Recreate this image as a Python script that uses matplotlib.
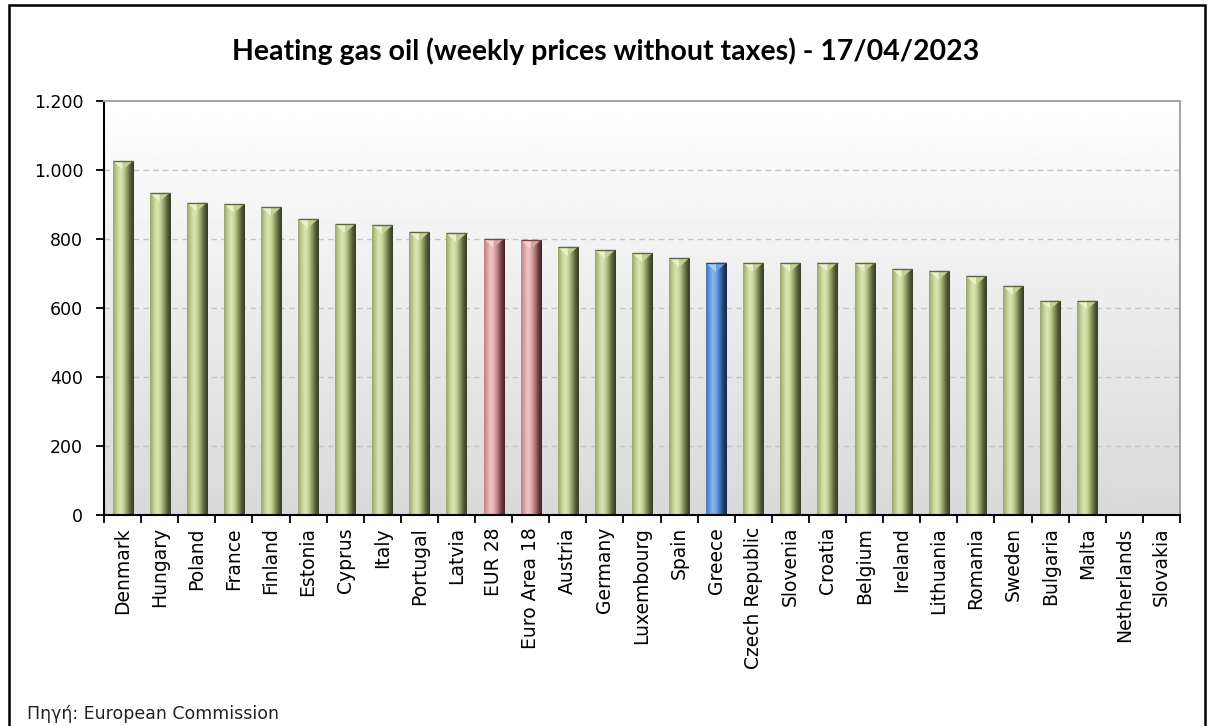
import numpy as np
import matplotlib.pyplot as plt
from matplotlib.colors import LinearSegmentedColormap
from matplotlib.patches import Polygon, Rectangle
from matplotlib.ticker import FuncFormatter

# values (weekly prices without taxes)
countries = ['Denmark', 'Hungary', 'Poland', 'France', 'Finland', 'Estonia',
             'Cyprus', 'Italy', 'Portugal', 'Latvia', 'EUR 28', 'Euro Area 18',
             'Austria', 'Germany', 'Luxembourg', 'Spain', 'Greece',
             'Czech Republic', 'Slovenia', 'Croatia', 'Belgium', 'Ireland',
             'Lithuania', 'Romania', 'Sweden', 'Bulgaria', 'Malta',
             'Netherlands', 'Slovakia']
prices = [1025, 934, 905, 900, 891, 858, 843, 839, 820, 816, 800, 796,
          777, 767, 758, 744, 731, 731, 731, 731, 731, 712, 707, 692,
          664, 621, 621, 0, 0]
groups = ['country'] * 10 + ['average'] * 2 + ['country'] * 4 + ['greece'] + ['country'] * 12

y_ticks = [0, 200, 400, 600, 800, 1000, 1200]

palettes = {
    'country': ['#98a56c', '#bfcd90', '#dbe8b2', '#c6d49a', '#909d65', '#56613a', '#343b23'],
    'average': ['#bd8080', '#dea4a4', '#f4c4c4', '#e2aaaa', '#b47878', '#703e3e', '#402121'],
    'greece':  ['#4274b8', '#6396dc', '#8cb8f0', '#6ca0e3', '#4173b6', '#204270', '#13294b'],
}
bevel = {
    'country': ('#e8f1c8', '#c3d196', '#5d6840'),
    'average': ('#f9d5d5', '#dba4a4', '#7a4545'),
    'greece':  ('#abccf6', '#72a0dc', '#234776'),
}

fig = plt.figure(figsize=(12.11, 7.26), dpi=100)
ax = fig.add_axes([104 / 1211, 1 - 514.5 / 726, 1076 / 1211, 413.5 / 726])

# plot area background: white at the top fading to light grey
bg = np.linspace(0.85, 1.0, 256).reshape(-1, 1)
ax.imshow(bg, cmap='gray', vmin=0, vmax=1, origin='lower', aspect='auto',
          extent=[0, 1, 0, 1], transform=ax.transAxes, zorder=0)

for y in y_ticks[1:-1]:
    ax.axhline(y, color='#c4c4c4', lw=1, ls=(0, (4, 3)), zorder=1)

x = np.arange(len(countries))
w = 0.54
bars = ax.bar(x, prices, width=w, color='none', edgecolor='none', zorder=2)

grad = np.linspace(0, 1, 64).reshape(1, -1)
bevel_h = 26  # depth of the top bevel in data units (~9 px)
for rect, v, g in zip(bars, prices, groups):
    if v <= 0:
        continue
    x0 = rect.get_x()
    cmap = LinearSegmentedColormap.from_list(g, palettes[g])
    im = ax.imshow(grad, cmap=cmap, aspect='auto', extent=[x0, x0 + w, 0, v],
                   zorder=3, interpolation='bicubic')
    im.set_clip_path(rect)
    xc = x0 + w / 2
    ax.add_patch(Polygon([[x0, v], [xc, v], [xc, v - bevel_h]], closed=True,
                         facecolor=bevel[g][0], edgecolor='none', zorder=4))
    ax.add_patch(Polygon([[xc, v], [x0 + w, v], [xc, v - bevel_h]], closed=True,
                         facecolor=bevel[g][1], edgecolor='none', zorder=4))
    ax.plot([x0, x0 + w], [v, v], color=bevel[g][2], lw=1, zorder=5,
            solid_capstyle='butt')

ax.set_xlim(-0.5, len(countries) - 0.5)
ax.set_ylim(0, 1200)
ax.set_yticks(y_ticks)
ax.yaxis.set_major_formatter(FuncFormatter(lambda v, p: f'{int(v):,}'.replace(',', '.')))
ax.tick_params(axis='y', direction='out', length=6, width=1.3, labelsize=12.5,
               pad=9, colors='black')

ax.set_xticks(np.arange(len(countries) + 1) - 0.5)
ax.set_xticklabels([])
ax.set_xticks(x, minor=True)
ax.set_xticklabels(countries, minor=True, rotation=90, fontsize=13.5, va='top')
ax.tick_params(axis='x', which='major', direction='out', length=6, width=1.3)
ax.tick_params(axis='x', which='minor', length=0, pad=9)

for side in ['left', 'bottom']:
    ax.spines[side].set_color('black')
    ax.spines[side].set_linewidth(1.5)
for side in ['top', 'right']:
    ax.spines[side].set_color('#a6a6a6')
    ax.spines[side].set_linewidth(1.5)
ax.spines['bottom'].set_zorder(6)

fig.text(0.5, 1 - 51 / 726, 'Heating gas oil (weekly prices without taxes) - 17/04/2023',
         ha='center', va='center', fontsize=20.5, fontweight='bold', family='Lato',
         color='black')
fig.text(27 / 1211, 1 - 714 / 726, 'Πηγή: European Commission',
         ha='left', va='center', fontsize=12.5, color='#222222')

fig.patches.append(Rectangle((9 / 1211, -0.01), 1196 / 1211, 1 - 5 / 726 + 0.01,
                             transform=fig.transFigure, fill=False,
                             edgecolor='black', lw=1.8, zorder=10))

fig.savefig('out.png', dpi=100)
